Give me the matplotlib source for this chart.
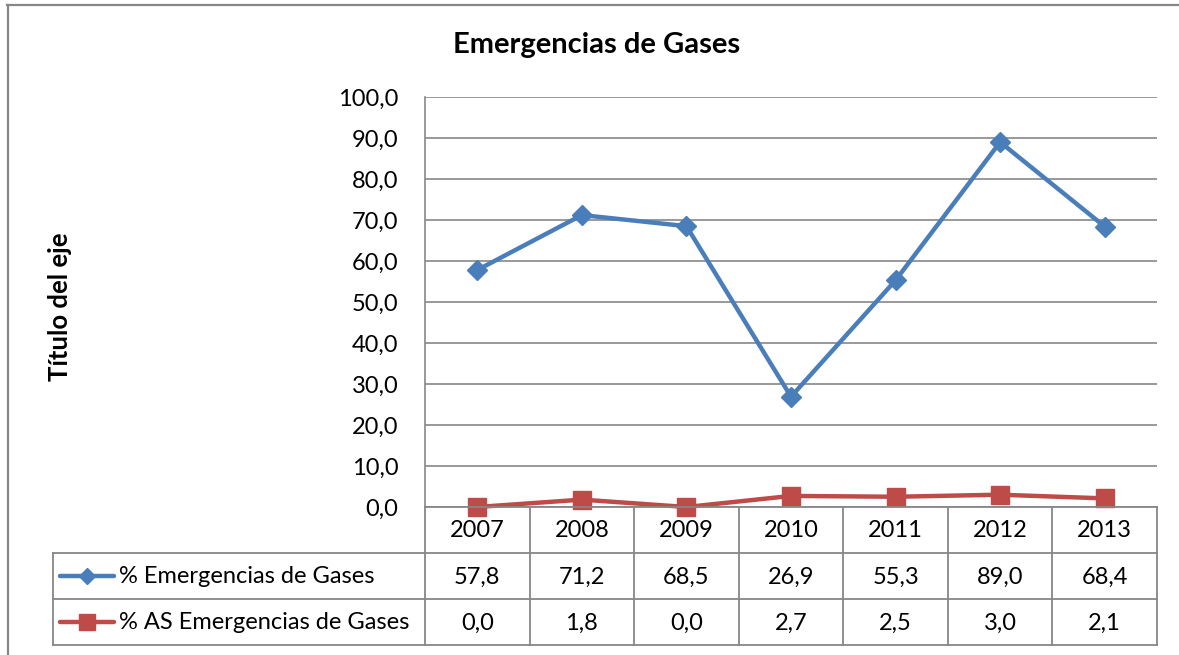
import matplotlib
matplotlib.use("Agg")
import matplotlib.pyplot as plt
from matplotlib.lines import Line2D

# ── data ─────────────────────────────────────────────────────────────────────
years = ["2007", "2008", "2009", "2010", "2011", "2012", "2013"]
pct_emerg = [57.8, 71.2, 68.5, 26.9, 55.3, 89.0, 68.4]
pct_as_emerg = [0.0, 1.8, 0.0, 2.7, 2.5, 3.0, 2.1]
series_names = ["% Emergencias de Gases", "% AS Emergencias de Gases"]
y_ticks = list(range(0, 101, 10))

BLUE, RED = "#4a7ebb", "#be4b48"
GRID = "#878787"
FONT = "Lato"
FS = 17

plt.rcParams["font.family"] = [FONT, "DejaVu Sans"]

W, H = 1179, 655
fig = plt.figure(figsize=(W / 100, H / 100), dpi=100, facecolor="white")

def px_box(x0, y0, x1, y1):
    # pixel box (top-left origin) -> figure fraction rect
    return [x0 / W, 1 - y1 / H, (x1 - x0) / W, (y1 - y0) / H]

# ── outer chart border ───────────────────────────────────────────────────────
fig.add_artist(Line2D([8 / W, 8 / W], [0, 1 - 5 / H], color=GRID, lw=1.6))
fig.add_artist(Line2D([7 / W, 1], [1 - 5 / H, 1 - 5 / H], color=GRID, lw=1.6))

# ── plot area ────────────────────────────────────────────────────────────────
PL, PR, PT, PB = 425, 1157, 97, 507
ax = fig.add_axes(px_box(PL, PT, PR, PB))
x = list(range(len(years)))
ax.plot(x, pct_emerg, color=BLUE, lw=3.2, marker="D", ms=10, zorder=5)
ax.plot(x, pct_as_emerg, color=RED, lw=3.2, marker="s", ms=13.5, zorder=5)
ax.set_xlim(-0.5, len(years) - 0.5)
ax.set_ylim(0, 100)
ax.set_yticks(y_ticks)
ax.set_yticklabels([f"{v:.1f}".replace(".", ",") for v in y_ticks],
                   fontsize=FS, color="black")
ax.tick_params(axis="y", length=0, pad=19)
ax.set_xticks([])
for side in ("top", "right", "bottom"):
    ax.spines[side].set_visible(False)
ax.spines["left"].set_color(GRID)
ax.spines["left"].set_linewidth(1.2)
ax.grid(axis="y", color=GRID, lw=1.2)
ax.set_axisbelow(True)
for c in ax.lines:
    c.set_clip_on(False)

fig.text(597 / W, 1 - 45 / H, "Emergencias de Gases", ha="center", va="center",
         fontsize=21, fontweight="bold")
fig.text(60 / W, 1 - 307 / H, "Título del eje", ha="center", va="center",
         rotation=90, fontsize=18.5, fontweight="bold")

# ── data table ───────────────────────────────────────────────────────────────
TL, TB = 53, 645
colw = (PR - PL) / len(years)
left = len(years) - 0.5 - (PR - TL) / colw
ta = fig.add_axes(px_box(TL, PB, PR, TB))
ta.set_xlim(left, len(years) - 0.5)
ta.set_ylim(3, 0)
ta.axis("off")

lk = dict(color=GRID, lw=1.3, clip_on=False)
# horizontal rules
ta.plot([-0.5, len(years) - 0.5], [0, 0], **lk)
for r in (1, 2, 3):
    ta.plot([left, len(years) - 0.5], [r, r], **lk)
# vertical rules
ta.plot([left, left], [1, 3], **lk)
for i in range(len(years) + 1):
    ta.plot([i - 0.5, i - 0.5], [0, 3], **lk)

for i, yr in enumerate(years):
    ta.text(i, 0.52, yr, ha="center", va="center", fontsize=FS)
    ta.text(i, 1.52, f"{pct_emerg[i]:.1f}".replace(".", ","),
            ha="center", va="center", fontsize=FS)
    ta.text(i, 2.52, f"{pct_as_emerg[i]:.1f}".replace(".", ","),
            ha="center", va="center", fontsize=FS)

# legend keys inside the table
def cx(px):
    return left + (px - TL) / colw

for row, (name, col, mk, ms) in enumerate(
        zip(series_names, [BLUE, RED], ["D", "s"], [8, 12]), start=1):
    ta.plot([cx(60), cx(114)], [row + 0.5, row + 0.5], color=col, lw=3.2,
            solid_capstyle="round", clip_on=False)
    ta.plot([cx(87)], [row + 0.5], color=col, marker=mk, ms=ms, clip_on=False)
    ta.text(cx(119), row + 0.52, name, ha="left", va="center", fontsize=FS)

fig.savefig("out.png", dpi=100, facecolor="white")
